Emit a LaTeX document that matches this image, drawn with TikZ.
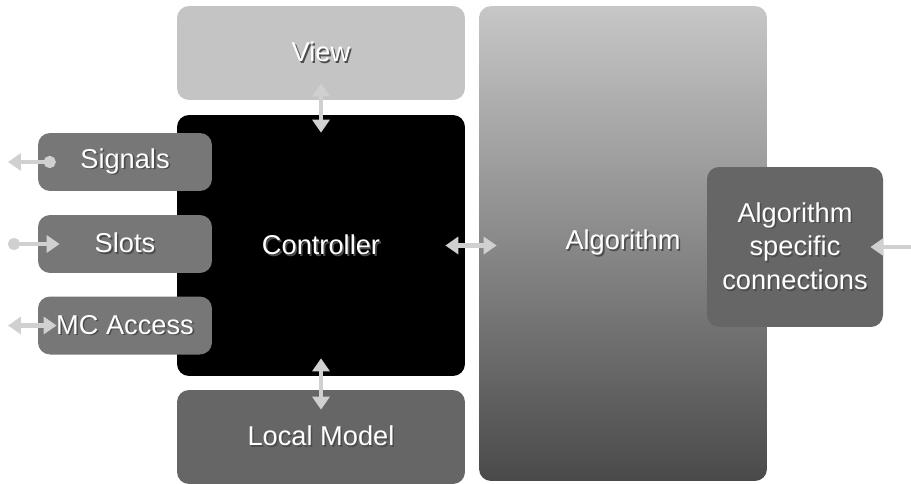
\documentclass[tikz,border=0pt]{standalone}
\usepackage{fontspec}
\setmainfont{Liberation Sans}
\usepackage{tikz}
\usetikzlibrary{arrows.meta}

% white text with a dark drop shadow
\newcommand{\shd}[1]{\makebox[0pt][l]{\hspace{0.9pt}\raisebox{-0.9pt}{\color{black!70}#1}}#1}

\definecolor{viewgray}{HTML}{C4C4C4}
\definecolor{partgray}{HTML}{777777}
\definecolor{modelgray}{HTML}{666666}
\definecolor{linkgray}{HTML}{D0D0D0}

\tikzset{
  block/.style={rounded corners=0.24cm, inner sep=0pt, text=white, align=center,
    font=\fontsize{15.5}{19.3}\selectfont},
  link/.style={draw=linkgray, line width=2.8pt,
    arrows={-Triangle[width=0.34cm, length=0.26cm]}},
  both/.style={link, arrows={Triangle[width=0.34cm, length=0.26cm]-Triangle[width=0.34cm, length=0.26cm]}},
}

\begin{document}
\begin{tikzpicture}[x=0.02cm, y=-0.02cm]
\useasboundingbox (0,0) rectangle (911,483);
\clip (0,0) rectangle (911,483);

% Main blocks
\node[block, fill=viewgray, minimum width=5.76cm, minimum height=1.88cm] (view) at (321,53) {\shd{View}};
\node[block, fill=black, minimum width=5.76cm, minimum height=5.22cm] (ctrl) at (321,245.5) {\shd{Controller}};
\node[block, fill=modelgray, minimum width=5.76cm, minimum height=1.88cm] (model) at (321,437) {\shd{Local Model}};
\node[block, top color=black!22, bottom color=black!71, minimum width=5.76cm, minimum height=9.5cm] (algo) at (623,243.5) {\shd{Algorithm}};
\node[block, fill=modelgray, minimum width=3.52cm, minimum height=3.2cm] (spec) at (795,247)
  {\shd{Algorithm}\\\shd{specific}\\\shd{connections}};

% Ports on the left
\foreach \n/\t/\y in {sig/Signals/162, slots/Slots/244, mc/MC Access/325.5} {
    \node[block, fill=partgray, minimum width=3.48cm, minimum height=1.16cm] (\n) at (125,\y) {\shd{\t}};
}

% Outer ends
\coordinate (sigout) at (8,162);
\coordinate (slotsin) at (8,244);
\coordinate (mcout) at (8,325.5);
\coordinate (specout) at (915,247);

% Connections
\draw[both, shorten <=-0.34cm, shorten >=-0.36cm] (view) -- (ctrl);
\draw[both, shorten <=-0.36cm, shorten >=-0.40cm] (ctrl) -- (model);
\draw[both, shorten <=-0.40cm, shorten >=-0.36cm] (ctrl.east) -- (ctrl.east -| algo.west);
\draw[link, arrows={Circle[length=0.24cm]-Triangle[width=0.34cm, length=0.26cm]}, shorten <=-0.36cm] (sig.west) -- (sigout);
\draw[link, arrows={Circle[length=0.24cm]-Triangle[width=0.34cm, length=0.26cm]}, shorten >=-0.44cm] (slotsin) -- (slots.west);
\draw[both, shorten <=-0.38cm] (mc.west) -- (mcout);
\draw[link, shorten >=-0.26cm] (specout) -- (spec.east);
\end{tikzpicture}
\end{document}
